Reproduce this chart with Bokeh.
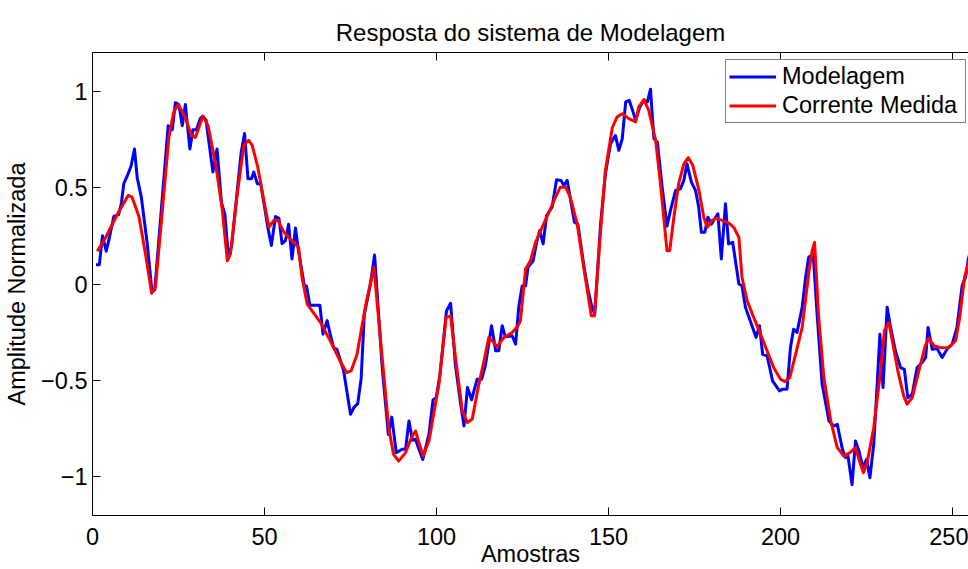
from bokeh.plotting import figure
from bokeh.models import (LinearAxis, FixedTicker, Legend, LegendItem, Range1d, ColumnDataSource,
                          CustomLabelingPolicy)
from bokeh.embed import file_html
from bokeh.resources import INLINE

# --- data (sample index, amplitude) ---
modelagem_x = [1, 2, 2.9, 4, 4.9, 6.2, 7.6, 8.4, 9.1, 10.1, 11.2, 12.2, 13, 14.2, 15.9, 17.3, 18.1, 20.3, 22, 23.2,
               24.1, 25.1, 26.1, 27, 28.3, 29.2, 30.2, 31.4, 32.1, 33, 35, 36.2, 37.5, 38.5, 39.4, 40.4,
               42, 43.2, 44.2, 45.2, 46.2, 46.9, 47.9, 48.9, 51, 52, 53.2, 54.2, 55.1, 56.1, 57, 58, 59, 59.9,
               61.6, 62.2, 63.2, 66.1, 67, 68.2, 69.1, 70.1, 71.1, 73, 75, 76, 77.1, 78.1, 79, 80.8, 82,
               84.2, 86, 87, 88.3, 90, 91, 92, 93, 93.9, 94.9, 96, 97.8, 99, 99.9, 101, 102.9, 104.1, 105.5,
               107, 108, 109, 110.2, 111.8, 113.1, 114.2, 116, 117.2, 118.1, 119.1, 120, 122, 123, 123.9, 124.9,
               125.9, 126.6, 128.1, 129.1, 130, 131, 132, 133.6, 134.9, 136.2, 137, 138, 139, 140.1, 141.1,
               142.9, 144.1, 145.1, 146, 147.7, 149.1, 150.6, 152, 153, 154, 155, 156, 157, 157.9, 159.1,
               160.3, 161.3, 162.2, 163.2, 164.2, 165.6, 167,
               168, 169.5, 170.9, 171.9, 172.8, 174.1, 175.3, 176.2, 177, 178, 178.9, 179.9, 180.9, 181.8,
               182.8, 184, 184.9, 186.1, 187.9, 188.8, 189.8, 191.2, 192.9, 193.9, 194.8, 196.1, 197.7, 199.7,
               200.7, 201.9, 202.9, 203.8, 204.8, 206.3, 207.3, 208.2,
               209.5, 210.7, 212.1, 214.1, 215.5, 216.5, 218, 218.9, 219.6, 220.8, 221.8, 222.8, 224, 225, 226,
               227.1, 228.1, 228.9, 229.8, 231, 232, 233.4, 234.9, 236, 237, 238.3, 239.7, 241.2, 242.2, 242.9,
               244.1, 245.5, 247, 248.4, 249.9, 251.3, 252.8, 253.8, 254.6, 256]
modelagem_y = [0.10, 0.10, 0.25, 0.17, 0.24, 0.35, 0.36, 0.42, 0.52, 0.56, 0.61, 0.70, 0.55, 0.45, 0.21, -0.04, -0.03, 0.45, 0.82, 0.80,
               0.94, 0.93, 0.82, 0.93, 0.70, 0.80, 0.80, 0.86, 0.87, 0.85, 0.58, 0.70, 0.42, 0.36, 0.16, 0.19,
               0.47, 0.68, 0.78, 0.545, 0.545, 0.58, 0.52, 0.52, 0.29, 0.20, 0.35, 0.34, 0.21, 0.225, 0.31, 0.13, 0.29, 0.17,
               -0.01, -0.01, -0.11, -0.11, -0.26, -0.19, -0.26, -0.33, -0.34, -0.45, -0.675, -0.64, -0.62, -0.49, -0.16, 0.0, 0.15,
               -0.43, -0.78, -0.69, -0.875, -0.857, -0.857, -0.71, -0.81, -0.805, -0.857, -0.91, -0.78, -0.60, -0.59, -0.47, -0.14, -0.10, -0.42,
               -0.62, -0.736, -0.537, -0.60, -0.494, -0.494, -0.424, -0.216, -0.346, -0.346, -0.216, -0.274, -0.268, -0.312, -0.121, -0.01,
               -0.01, 0.087, 0.12, 0.216, 0.277, 0.208, 0.355, 0.398, 0.54, 0.537, 0.51, 0.537, 0.433, 0.32, 0.31,
               0.087, -0.035, -0.113, -0.156, 0.312, 0.57, 0.727, 0.77, 0.693, 0.753, 0.944, 0.952, 0.90, 0.848, 0.918,
               0.952, 0.944, 1.01, 0.753, 0.736, 0.502, 0.30,
               0.38, 0.485, 0.493, 0.537, 0.623, 0.528, 0.485, 0.40, 0.268, 0.268, 0.346, 0.31, 0.338, 0.364,
               0.13, 0.416, 0.208, 0.216, 0.0, -0.009, -0.121, -0.19, -0.277, -0.216, -0.364, -0.372, -0.502, -0.554,
               -0.545, -0.545, -0.329, -0.234, -0.251, -0.121, 0.035, 0.139,
               0.156, -0.173, -0.52, -0.71, -0.736, -0.727, -0.857, -0.90, -0.89, -1.04, -0.814, -0.866, -0.952, -0.909, -1.004,
               -0.831, -0.52, -0.26, -0.537, -0.121, -0.225, -0.346, -0.433, -0.442, -0.59, -0.571, -0.433, -0.407, -0.381, -0.225,
               -0.338, -0.334, -0.381, -0.338, -0.312, -0.225, -0.009, 0.035, 0.13, 0.22]

corrente_x = [1.4, 3.8, 7.2, 10.4, 11.5, 13.5, 15.4, 17.2, 18.3, 20.3, 22.2, 23.6, 24.9, 26.8, 28.8, 29.9, 32.1, 33.6,
              35.8, 37.7, 39.2, 40.1,
              42.1, 44, 45.4, 46.4, 48, 49.8, 51.3, 52.7, 53.9, 55.6, 58, 59.9, 60.9, 62.4, 66.3, 69.1, 72, 73.9,
              75.2, 76.9, 79.3, 81.8,
              84.2, 86.1, 87.5, 89, 91, 92.7, 93.9, 94.9, 96.1, 97.8, 100.7, 102.8, 104.1, 105.5, 107.5, 109, 110.4,
              112.3, 113.8, 115.2, 116.2, 117.6, 119.6, 122, 123.7,
              124.4, 125.9, 127.3, 128.8, 130.7, 132.7, 134.6, 136, 137.5, 138.9, 140.9, 142.8, 145, 145.9, 147.7,
              149.1, 151.1, 152.5, 154, 155.9, 157.9, 158.8, 160.3, 161.7, 163.7, 165.1, 167, 167.8,
              169, 170.4, 171.9, 173.2, 174.5, 176.3, 177.7, 178.7, 180.1, 181.3, 183, 184.9, 186.4, 187.9, 188.8,
              190.3, 192.2, 194.2, 196.1, 198, 200, 201.3, 202.7, 204.4, 206.3, 208.3, 209.2,
              209.9, 211.1, 212.6, 214.6, 216.5, 218.4, 220.2, 221.8, 222.8, 224.1, 225.2, 227.1, 229.1, 230.2,
              231.5, 232.5, 234.1, 235.8, 236.8, 238.3, 240.2, 242.1, 243.1, 244.6, 246.5, 248.9, 250.9, 252.1,
              253.5, 254.6, 256]
corrente_y = [0.17, 0.24, 0.36, 0.46, 0.45, 0.35, 0.156, -0.048, -0.017, 0.38, 0.76, 0.89, 0.93, 0.87, 0.77, 0.76, 0.87, 0.82,
              0.62, 0.39, 0.12, 0.156,
              0.47, 0.72, 0.745, 0.72, 0.61, 0.433, 0.294, 0.33, 0.33, 0.27, 0.225, 0.19, 0.035, -0.104, -0.20, -0.294, -0.40, -0.46,
              -0.45, -0.364, -0.12, 0.087,
              -0.38, -0.745, -0.883, -0.918, -0.874, -0.797, -0.762, -0.823, -0.892, -0.814, -0.52, -0.173, -0.165, -0.38, -0.658, -0.718, -0.70,
              -0.52, -0.40, -0.277, -0.294, -0.326, -0.277, -0.251, -0.216,
              -0.19, 0.078, 0.12, 0.216, 0.294, 0.372, 0.45, 0.502, 0.502, 0.45, 0.31, 0.087, -0.165, -0.165, 0.277,
              0.589, 0.81, 0.866, 0.883, 0.857, 0.84, 0.918, 0.956, 0.90, 0.745, 0.52, 0.173, 0.173,
              0.346, 0.52, 0.623, 0.655, 0.615, 0.485, 0.346, 0.294, 0.33, 0.341, 0.33, 0.317, 0.294, 0.242, 0.035,
              -0.087, -0.173, -0.26, -0.346, -0.433, -0.494, -0.506, -0.485, -0.364, -0.225, 0.069, 0.173,
              0.216, -0.173, -0.485, -0.71, -0.848, -0.892, -0.874, -0.848, -0.909, -0.978, -0.926, -0.745, -0.45, -0.242,
              -0.20, -0.294, -0.45, -0.58, -0.623, -0.589, -0.45, -0.32, -0.28, -0.32, -0.33, -0.329, -0.294, -0.173,
              0.035, 0.104, 0.2]

x_ticks = [0, 50, 100, 150, 200, 250]
y_ticks = [-1, -0.5, 0, 0.5, 1]
y_tick_labels = ["\u22121", "\u22120.5", "0", "0.5", "1"]
series_names = ["Modelagem", "Corrente Medida"]
title_text = "Resposta do sistema de Modelagem"
x_label = "Amostras"
y_label = "Amplitude Normalizada"

FONT = "Liberation Sans"
FS = "23.5px"

p = figure(width=968, height=569, output_backend="svg", toolbar_location=None,
           x_range=Range1d(0, 254.65), y_range=Range1d(-1.2, 1.2),
           min_border_left=92, min_border_top=52, min_border_right=0, min_border_bottom=54,
           title=title_text, x_axis_label=x_label, y_axis_label=y_label)

p.background_fill_color = "white"
p.border_fill_color = "white"
p.outline_line_color = None
p.xgrid.visible = False
p.ygrid.visible = False

p.title.align = "center"
p.title.text_font = FONT
p.title.text_font_size = "24px"
p.title.text_font_style = "normal"
p.title.text_color = "black"
p.title.standoff = 14

for ax in (p.xaxis[0], p.yaxis[0]):
    ax.axis_line_color = "black"
    ax.axis_line_width = 1
    ax.major_tick_line_color = "black"
    ax.major_tick_in = 8
    ax.major_tick_out = 0
    ax.minor_tick_line_color = None
    ax.major_label_text_font = FONT
    ax.major_label_text_font_size = FS
    ax.major_label_text_color = "black"
    ax.axis_label_text_font = FONT
    ax.axis_label_text_font_size = FS
    ax.axis_label_text_font_style = "normal"
    ax.axis_label_text_color = "black"

p.xaxis[0].ticker = FixedTicker(ticks=x_ticks)
p.xaxis[0].major_label_standoff = 12
p.xaxis[0].axis_label_standoff = -7
p.yaxis[0].ticker = FixedTicker(ticks=y_ticks)
p.yaxis[0].major_label_overrides = {t: s for t, s in zip(y_ticks, y_tick_labels)}
p.yaxis[0].major_label_standoff = 5
p.yaxis[0].axis_label_standoff = 8

# top frame line with inward ticks, no labels (box on)
top = LinearAxis(ticker=FixedTicker(ticks=x_ticks))
top.axis_line_color = "black"
top.major_tick_line_color = "black"
top.major_tick_in = 8
top.major_tick_out = 0
top.minor_tick_line_color = None
top.major_label_text_font_size = "0px"
top.major_label_standoff = 0
top.major_label_policy = CustomLabelingPolicy(code="""
for (const i of indices)
  indices.unset(i)
""")
p.add_layout(top, "above")

src_m = ColumnDataSource(dict(x=modelagem_x, y=modelagem_y))
src_c = ColumnDataSource(dict(x=corrente_x, y=corrente_y))
r_m = p.line("x", "y", source=src_m, line_color="#0000FF", line_width=3, line_join="round")
r_c = p.line("x", "y", source=src_c, line_color="#FF0000", line_width=3, line_join="round")

legend = Legend(items=[LegendItem(label=series_names[0], renderers=[r_m]),
                       LegendItem(label=series_names[1], renderers=[r_c])],
                location=(633, 392))
legend.label_text_font = FONT
legend.label_text_font_size = FS
legend.label_text_color = "black"
legend.glyph_width = 47
legend.glyph_height = 27
legend.label_height = 27
legend.label_width = 180
legend.label_standoff = 6
legend.spacing = 2
legend.padding = 3
legend.margin = 0
legend.border_line_color = "black"
legend.border_line_width = 1
legend.background_fill_color = "white"
legend.background_fill_alpha = 1
p.add_layout(legend)

open("out.html", "w").write(file_html(p, INLINE))
